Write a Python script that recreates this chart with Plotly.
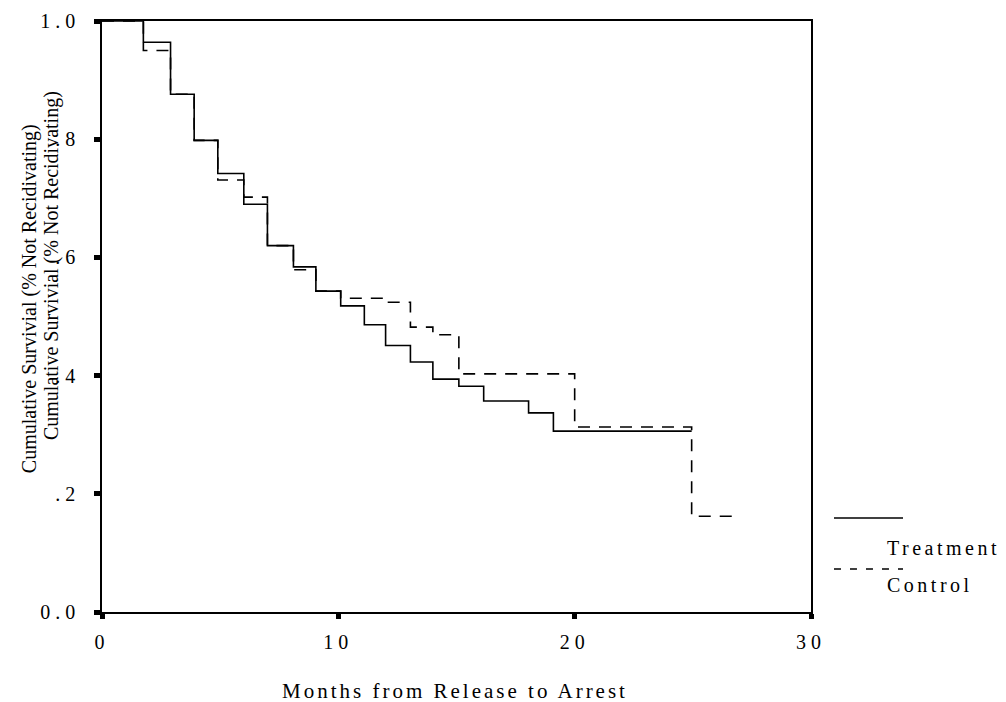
import plotly.graph_objects as go

# Kaplan-Meier style step data
treatment_months = [0, 1.75, 2.9, 3.9, 4.9, 6.0, 7.0, 8.1, 9.05, 10.1, 11.1, 12.0, 13.05, 14.0, 15.1, 16.15, 18.05, 19.1, 24.95]
treatment_surv = [1.0, 0.964, 0.876, 0.798, 0.742, 0.690, 0.620, 0.584, 0.543, 0.518, 0.486, 0.451, 0.423, 0.394, 0.382, 0.357, 0.337, 0.306, 0.306]

control_months = [0, 1.75, 2.9, 3.9, 4.9, 6.0, 7.0, 8.1, 9.05, 10.1, 12.0, 13.05, 14.0, 15.1, 20.0, 24.95, 27.0]
control_surv = [1.0, 0.950, 0.876, 0.798, 0.731, 0.702, 0.620, 0.579, 0.543, 0.531, 0.524, 0.482, 0.469, 0.403, 0.313, 0.162, 0.162]

y_tickvals = [0, 0.2, 0.4, 0.6, 0.8, 1.0]
y_ticktext = ["0.0", ".2", ".4", ".6", ".8", "1.0"]
x_tickvals = [0, 10, 20, 30]
x_ticktext = ["0", "10", "20", "30"]

FONT = "Liberation Serif, Times New Roman, serif"


def spaced(s, px):
    return '<span style="letter-spacing:%spx">%s</span>' % (px, s)


fig = go.Figure()
fig.add_trace(go.Scatter(x=treatment_months, y=treatment_surv, mode="lines",
                         line=dict(shape="hv", color="black", width=1.6),
                         name="Treatment", showlegend=False))
fig.add_trace(go.Scatter(x=control_months, y=control_surv, mode="lines",
                         line=dict(shape="hv", color="black", width=1.6, dash="12px,9px"),
                         name="Control", showlegend=False))

fig.update_xaxes(range=[0, 30], tickvals=x_tickvals, ticktext=[spaced(t, 5) for t in x_ticktext],
                 showline=True, linecolor="black", linewidth=1.6, mirror=True,
                 ticks="outside", ticklen=5, tickwidth=5, tickcolor="black",
                 showgrid=False, zeroline=False, ticklabelstandoff=6, automargin=False,
                 tickfont=dict(family=FONT, size=20, color="black"))
fig.update_yaxes(range=[0, 1.0], tickvals=y_tickvals, ticktext=[spaced(t, 5) for t in y_ticktext],
                 showline=True, linecolor="black", linewidth=1.6, mirror=True,
                 ticks="outside", ticklen=6, tickwidth=5, tickcolor="black",
                 showgrid=False, zeroline=False, ticklabelstandoff=10, automargin=False,
                 tickfont=dict(family=FONT, size=20, color="black"))

ann_font = dict(family=FONT, size=20, color="black")
annotations = [
    dict(text=spaced("Months from Release to Arrest", 3), x=0.498, y=-0.134, xref="paper", yref="paper",
         xanchor="center", yanchor="middle", showarrow=False, font=dict(family=FONT, size=21, color="black")),
    dict(text="Cumulative Survivial (% Not Recidivating)", x=-0.103, y=0.531, xref="paper", yref="paper",
         xanchor="center", yanchor="middle", textangle=-90, showarrow=False, font=ann_font),
    dict(text="Cumulative Survivial (% Not Recidivating)", x=-0.072, y=0.587, xref="paper", yref="paper",
         xanchor="center", yanchor="middle", textangle=-90, showarrow=False, font=ann_font),
    dict(text=spaced("Treatment", 3.5), x=1.104, y=0.108, xref="paper", yref="paper",
         xanchor="left", yanchor="middle", showarrow=False, font=ann_font),
    dict(text=spaced("Control", 3.5), x=1.104, y=0.0457, xref="paper", yref="paper",
         xanchor="left", yanchor="middle", showarrow=False, font=ann_font),
]

shapes = [
    dict(type="line", xref="paper", yref="paper", x0=1.0324, x1=1.1298, y0=0.159, y1=0.159,
         line=dict(color="black", width=1.4)),
    dict(type="line", xref="paper", yref="paper", x0=1.0324, x1=1.1298, y0=0.0728, y1=0.0728,
         line=dict(color="black", width=1.4, dash="7px,9px")),
]

fig.update_layout(width=1006, height=702,
                  margin=dict(l=94, r=203, t=13, b=98, autoexpand=False),
                  paper_bgcolor="white", plot_bgcolor="white",
                  annotations=annotations, shapes=shapes, showlegend=False)

fig.write_html("out.html")
